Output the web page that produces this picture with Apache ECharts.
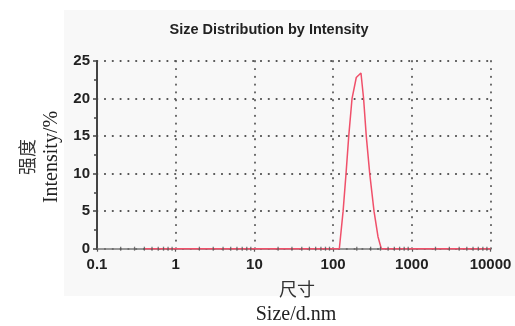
<!DOCTYPE html>
<html>
<head>
<meta charset="utf-8">
<script src="https://cdn.jsdelivr.net/npm/echarts@6/dist/echarts.min.js"></script>
<style>
html,body{margin:0;padding:0;background:#fff;}
#chart{width:515px;height:326px;}
</style>
</head>
<body>
<div id="chart"></div>
<script>
// Data
const sizes = [0.4, 120, 134, 146, 158, 174, 197, 226, 244, 264, 292, 331, 372, 410, 10000];
const intensity = [0, 0, 5, 10, 15, 20, 22.8, 23.4, 20, 15, 10, 5, 1.6, 0, 0];
const xTickLabels = ['0.1', '1', '10', '100', '1000', '10000'];
const yTickLabels = ['0', '5', '10', '15', '20', '25'];
const decades = [0.1, 1, 10, 100, 1000];
const minorMultipliers = [2, 3, 4, 5, 6, 7, 8, 9];

const minorTicks = [];
decades.forEach(d => minorMultipliers.forEach(m => minorTicks.push([+(d * m).toPrecision(3), 0])));

const seriesData = sizes.map((s, i) => [s, intensity[i]]);

const chart = echarts.init(document.getElementById('chart'), null, {renderer: 'canvas'});
const dotted = {color: '#555', width: 1.8, type: [0.4, 7.4], cap: 'round'};

chart.setOption({
  animation: false,
  backgroundColor: '#ffffff',
  graphic: [
    {type: 'rect', z: -100, shape: {x: 64, y: 10, width: 451, height: 286}, style: {fill: '#f8f8f8'}, silent: true},
    {type: 'text', z: 10, x: 269, y: 29.5, style: {text: 'Size Distribution by Intensity', font: 'bold 14.5px "Liberation Sans", Arial, sans-serif', fill: '#222', align: 'center', verticalAlign: 'middle'}},
    {type: 'text', z: 10, x: 27, y: 157, rotation: Math.PI / 2, style: {text: '强度', font: '18px "Noto Sans CJK SC", sans-serif', fill: '#333', align: 'center', verticalAlign: 'middle'}},
    {type: 'text', z: 10, x: 52, y: 157, rotation: Math.PI / 2, style: {text: 'Intensity/%', font: '20px "Liberation Serif", "DejaVu Serif", serif', fill: '#222', align: 'center', verticalAlign: 'middle'}},
    {type: 'text', z: 10, x: 297, y: 289, style: {text: '尺寸', font: '18px "Noto Sans CJK SC", sans-serif', fill: '#333', align: 'center', verticalAlign: 'middle'}},
    {type: 'text', z: 10, x: 296, y: 315, style: {text: 'Size/d.nm', font: '20px "Liberation Serif", "DejaVu Serif", serif', fill: '#222', align: 'center', verticalAlign: 'middle'}}
  ],
  grid: {left: 97, right: 24.5, top: 61, bottom: 77.3, containLabel: false},
  xAxis: {
    type: 'log', logBase: 10, min: 0.1, max: 10000,
    axisLine: {show: true, lineStyle: {color: '#777', width: 1.5}},
    axisTick: {show: true, length: 3, inside: false, lineStyle: {color: '#555', width: 1.2}},
    minorTick: {show: false},
    axisLabel: {
      margin: 9, color: '#222', fontSize: 15, fontWeight: 'bold', fontFamily: '"Liberation Sans", Arial, sans-serif',
      formatter: function (v) {
        const idx = Math.round(Math.log10(v)) + 1;
        return xTickLabels[idx] !== undefined ? xTickLabels[idx] : '';
      }
    },
    splitLine: {show: true, lineStyle: dotted}
  },
  yAxis: {
    type: 'value', min: 0, max: 25, interval: 5,
    axisLine: {show: true, lineStyle: {color: '#444', width: 2}},
    axisTick: {show: true, length: 4, lineStyle: {color: '#444', width: 1.5}},
    minorTick: {show: true, splitNumber: 2, length: 3, lineStyle: {color: '#444', width: 1.5}},
    axisLabel: {
      margin: 7, color: '#222', fontSize: 15, fontWeight: 'bold', fontFamily: '"Liberation Sans", Arial, sans-serif',
      formatter: function (v) { return yTickLabels[Math.round(v / 5)]; }
    },
    splitLine: {show: true, lineStyle: dotted}
  },
  series: [
    {
      type: 'line', data: seriesData, showSymbol: false, symbol: 'none', smooth: false, z: 3,
      lineStyle: {color: '#f0506a', width: 1.5}, clip: false
    },
    {
      type: 'scatter', data: minorTicks, symbol: 'rect', symbolSize: [1.3, 4], z: 4, silent: true,
      itemStyle: {color: '#555'}
    }
  ]
});
</script>
</body>
</html>
